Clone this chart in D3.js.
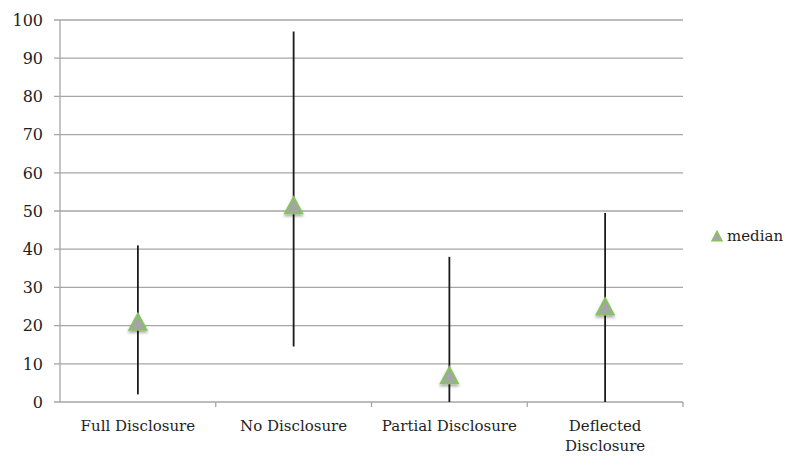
<!DOCTYPE html>
<html>
<head>
<meta charset="utf-8">
<script src="https://cdn.jsdelivr.net/npm/d3@7"></script>
<style>
  body { margin: 0; background: #fff; }
  svg text { font-family: "DejaVu Serif", serif; fill: #1e1e1e; }
</style>
</head>
<body>
<div id="chart"></div>
<script>
// chart values
const categories = ["Full Disclosure", "No Disclosure", "Partial Disclosure", "Deflected Disclosure"];
const highs = [41, 97, 38, 49.5];
const lows = [2, 14.5, 0, 0];
const medians = [21, 51.5, 7, 25];
const yTicks = [0, 10, 20, 30, 40, 50, 60, 70, 80, 90, 100];

const width = 800, height = 467;
const margin = { top: 20, right: 117, bottom: 65, left: 60 };

const svg = d3.select("#chart").append("svg")
    .attr("width", width)
    .attr("height", height);

// drop shadow for the markers
const defs = svg.append("defs");
const f = defs.append("filter").attr("id", "shadow")
    .attr("x", "-50%").attr("y", "-50%").attr("width", "200%").attr("height", "200%");
f.append("feDropShadow")
    .attr("dx", 0).attr("dy", 2).attr("stdDeviation", 1.5)
    .attr("flood-color", "#000").attr("flood-opacity", 0.35);

const x = d3.scaleBand()
    .domain(categories)
    .range([margin.left, width - margin.right]);

const y = d3.scaleLinear()
    .domain([0, 100])
    .range([height - margin.bottom, margin.top]);

// triangle centred on its bounding box (like the spreadsheet marker)
function triangle(hw, h) {
    const p = d3.path();
    p.moveTo(0, -h / 2);
    p.lineTo(hw, h / 2);
    p.lineTo(-hw, h / 2);
    p.closePath();
    return p.toString();
}

// gridlines
svg.append("g")
    .selectAll("line")
    .data(yTicks)
    .join("line")
    .attr("x1", margin.left - 6)
    .attr("x2", width - margin.right)
    .attr("y1", d => y(d))
    .attr("y2", d => y(d))
    .attr("stroke", "#a6a6a6")
    .attr("stroke-width", 1.3);

// y axis line + labels
svg.append("line")
    .attr("x1", margin.left).attr("x2", margin.left)
    .attr("y1", y(100)).attr("y2", y(0))
    .attr("stroke", "#a6a6a6").attr("stroke-width", 1.3);

svg.append("g")
    .selectAll("text")
    .data(yTicks)
    .join("text")
    .attr("x", 43)
    .attr("y", d => y(d))
    .attr("dy", "0.36em")
    .attr("text-anchor", "end")
    .style("font-size", "16px")
    .text(d => d);

// x axis tick marks between categories
const bounds = categories.map(c => x(c) + x.bandwidth());
svg.append("g")
    .selectAll("line")
    .data(bounds)
    .join("line")
    .attr("x1", d => d).attr("x2", d => d)
    .attr("y1", y(0)).attr("y2", y(0) + 5)
    .attr("stroke", "#a6a6a6").attr("stroke-width", 1.3);

// category labels (wrap long ones)
const labels = svg.append("g")
    .selectAll("text")
    .data(categories)
    .join("text")
    .attr("x", d => x(d) + x.bandwidth() / 2)
    .attr("y", y(0) + 29)
    .attr("text-anchor", "middle")
    .style("font-size", "15px");

labels.each(function(d) {
    const el = d3.select(this);
    const cx = x(d) + x.bandwidth() / 2;
    const words = d === "Deflected Disclosure" ? d.split(" ") : [d];
    words.forEach((w, i) => {
        el.append("tspan")
            .attr("x", cx)
            .attr("dy", i === 0 ? 0 : "1.35em")
            .text(w);
    });
});

// high-low lines
svg.append("g")
    .selectAll("line")
    .data(categories)
    .join("line")
    .attr("x1", d => x(d) + x.bandwidth() / 2)
    .attr("x2", d => x(d) + x.bandwidth() / 2)
    .attr("y1", (d, i) => y(highs[i]))
    .attr("y2", (d, i) => y(lows[i]))
    .attr("stroke", "#1a1a1a")
    .attr("stroke-width", 1.8);

// median markers
svg.append("g")
    .selectAll("path")
    .data(categories)
    .join("path")
    .attr("d", triangle(8.5, 16))
    .attr("transform", (d, i) => `translate(${x(d) + x.bandwidth() / 2},${y(medians[i])})`)
    .attr("fill", "#a5a5a8")
    .attr("stroke", "#86c35f")
    .attr("stroke-width", 2)
    .attr("filter", "url(#shadow)");

// legend
const legend = svg.append("g").attr("transform", "translate(717,236)");
legend.append("path")
    .attr("d", triangle(5, 9.5))
    .attr("fill", "#a5a5a8")
    .attr("stroke", "#86c35f")
    .attr("stroke-width", 1.5);
legend.append("text")
    .attr("x", 10)
    .attr("dy", "0.32em")
    .style("font-size", "15px")
    .text("median");
</script>
</body>
</html>
